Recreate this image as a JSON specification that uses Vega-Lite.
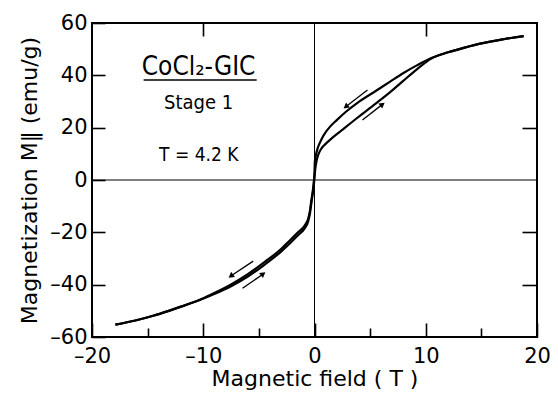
{
  "$schema": "https://vega.github.io/schema/vega-lite/v6.json",
  "width": 445,
  "height": 314,
  "autosize": "none",
  "padding": {"left": 92, "top": 23, "right": 21, "bottom": 56},
  "background": "white",
  "config": {
    "view": {"stroke": "black", "strokeWidth": 2},
    "axis": {
      "grid": false,
      "domain": false,
      "ticks": true,
      "tickColor": "black",
      "tickWidth": 1.6,
      "labelFlush": false,
      "labelFont": "DejaVu Sans",
      "labelFontSize": 21,
      "labelColor": "black",
      "titleFont": "DejaVu Sans",
      "titleFontSize": 22,
      "titleFontWeight": "normal",
      "titleColor": "black"
    }
  },
  "resolve": {"axis": {"x": "independent", "y": "independent"}},
  "layer": [
    {
      "data": {"values": [
        {"branch": "down", "x": 18.8, "y": 55.0},
        {"branch": "down", "x": 17.0, "y": 53.8},
        {"branch": "down", "x": 15.0, "y": 52.2},
        {"branch": "down", "x": 13.5, "y": 50.6},
        {"branch": "down", "x": 12.0, "y": 48.8},
        {"branch": "down", "x": 10.5, "y": 46.6},
        {"branch": "down", "x": 9.2, "y": 43.8},
        {"branch": "down", "x": 8.0, "y": 40.9},
        {"branch": "down", "x": 6.8, "y": 37.6},
        {"branch": "down", "x": 5.5, "y": 34.0},
        {"branch": "down", "x": 3.8, "y": 29.3},
        {"branch": "down", "x": 2.8, "y": 26.0},
        {"branch": "down", "x": 2.0, "y": 22.9},
        {"branch": "down", "x": 1.4, "y": 20.4},
        {"branch": "down", "x": 0.93, "y": 17.8},
        {"branch": "down", "x": 0.6, "y": 15.3},
        {"branch": "down", "x": 0.33, "y": 12.7},
        {"branch": "down", "x": 0.15, "y": 10.0},
        {"branch": "down", "x": 0.03, "y": 7.0},
        {"branch": "down", "x": 0.0, "y": 3.0},
        {"branch": "down", "x": -0.05, "y": 0.0},
        {"branch": "down", "x": -0.15, "y": -4.0},
        {"branch": "down", "x": -0.27, "y": -7.3},
        {"branch": "down", "x": -0.4, "y": -11.5},
        {"branch": "down", "x": -0.57, "y": -14.8},
        {"branch": "down", "x": -0.9, "y": -17.5},
        {"branch": "down", "x": -1.46, "y": -19.9},
        {"branch": "down", "x": -2.2, "y": -23.0},
        {"branch": "down", "x": -2.96, "y": -26.2},
        {"branch": "down", "x": -4.47, "y": -31.3},
        {"branch": "down", "x": -5.96, "y": -35.9},
        {"branch": "down", "x": -7.46, "y": -39.8},
        {"branch": "down", "x": -8.96, "y": -43.1},
        {"branch": "down", "x": -10.15, "y": -45.5},
        {"branch": "down", "x": -12.0, "y": -48.4},
        {"branch": "down", "x": -13.1, "y": -50.0},
        {"branch": "down", "x": -14.5, "y": -51.9},
        {"branch": "down", "x": -16.1, "y": -53.7},
        {"branch": "down", "x": -17.9, "y": -55.3},
        {"branch": "up", "x": -17.9, "y": -55.3},
        {"branch": "up", "x": -16.1, "y": -53.7},
        {"branch": "up", "x": -14.5, "y": -51.9},
        {"branch": "up", "x": -13.1, "y": -50.0},
        {"branch": "up", "x": -12.0, "y": -48.4},
        {"branch": "up", "x": -10.15, "y": -45.6},
        {"branch": "up", "x": -8.96, "y": -43.5},
        {"branch": "up", "x": -7.46, "y": -40.5},
        {"branch": "up", "x": -5.96, "y": -36.8},
        {"branch": "up", "x": -4.47, "y": -32.3},
        {"branch": "up", "x": -2.96, "y": -27.2},
        {"branch": "up", "x": -2.2, "y": -24.2},
        {"branch": "up", "x": -1.46, "y": -21.0},
        {"branch": "up", "x": -0.9, "y": -18.6},
        {"branch": "up", "x": -0.57, "y": -15.8},
        {"branch": "up", "x": -0.4, "y": -12.5},
        {"branch": "up", "x": -0.27, "y": -8.5},
        {"branch": "up", "x": -0.15, "y": -5.0},
        {"branch": "up", "x": -0.05, "y": -1.5},
        {"branch": "up", "x": 0.0, "y": 1.0},
        {"branch": "up", "x": 0.08, "y": 4.5},
        {"branch": "up", "x": 0.2, "y": 7.6},
        {"branch": "up", "x": 0.35, "y": 9.8},
        {"branch": "up", "x": 0.63, "y": 12.1},
        {"branch": "up", "x": 1.0, "y": 13.8},
        {"branch": "up", "x": 1.7, "y": 16.5},
        {"branch": "up", "x": 2.8, "y": 20.2},
        {"branch": "up", "x": 3.8, "y": 23.6},
        {"branch": "up", "x": 5.5, "y": 29.2},
        {"branch": "up", "x": 6.8, "y": 33.6},
        {"branch": "up", "x": 8.0, "y": 38.0},
        {"branch": "up", "x": 9.2, "y": 42.3},
        {"branch": "up", "x": 10.5, "y": 46.4},
        {"branch": "up", "x": 12.0, "y": 48.8},
        {"branch": "up", "x": 13.5, "y": 50.6},
        {"branch": "up", "x": 15.0, "y": 52.2},
        {"branch": "up", "x": 17.0, "y": 53.8},
        {"branch": "up", "x": 18.8, "y": 55.0}
      ]},
      "mark": {"type": "line", "color": "black", "strokeWidth": 2.2, "interpolate": "monotone"},
      "encoding": {
        "x": {
          "field": "x", "type": "quantitative",
          "scale": {"domain": [-20, 20], "nice": false},
          "axis": {
            "orient": "bottom", "offset": -14, "tickSize": 14,
            "values": [-20, -15, -10, -5, 0, 5, 10, 15, 20],
            "tickDash": {"condition": {"test": "datum.value % 10 !== 0", "value": [0, 5, 9, 100]}, "value": [14, 0]},
            "labelPadding": 8,
            "labelExpr": "datum.value % 10 === 0 ? replace(datum.label, '−', '–') : ''",
            "title": "Magnetic field ( T )", "titlePadding": 2
          }
        },
        "y": {
          "field": "y", "type": "quantitative",
          "scale": {"domain": [-60, 60], "nice": false},
          "axis": {
            "orient": "left", "offset": -13, "tickSize": 13,
            "values": [-60, -40, -20, 0, 20, 40, 60],
            "labelPadding": 5,
            "labelExpr": "replace(datum.label, '−', '–')",
            "title": "Magnetization M‖ (emu/g)", "titlePadding": 8
          }
        },
        "detail": {"field": "branch"}
      }
    },
    {
      "data": {"values": [{"lx": -10.42, "ly": 43.2, "label": "CoCl₂-GIC"}]},
      "mark": {"type": "text", "font": "DejaVu Sans Condensed, DejaVu Sans", "fontSize": 26, "color": "black", "align": "center", "baseline": "middle"},
      "encoding": {
        "x": {
          "field": "lx", "type": "quantitative",
          "axis": {"orient": "top", "offset": -13, "tickSize": 13, "values": [-10, 10], "labels": false, "title": null}
        },
        "y": {
          "field": "ly", "type": "quantitative",
          "axis": {"orient": "right", "offset": -15, "tickSize": 15, "values": [-40, -20, 20, 40], "labels": false, "title": null}
        },
        "text": {"field": "label"}
      }
    },
    {
      "data": {"values": [{"v": 0}]},
      "mark": {"type": "rule", "color": "black", "strokeWidth": 1},
      "encoding": {"y": {"field": "v", "type": "quantitative", "axis": null}}
    },
    {
      "data": {"values": [{"v": 0}]},
      "mark": {"type": "rule", "color": "black", "strokeWidth": 1},
      "encoding": {"x": {"field": "v", "type": "quantitative", "axis": null}}
    },
    {
      "data": {"values": [{"ux": -15.36, "ux2": -5.2, "uy": 38.2}]},
      "mark": {"type": "rule", "color": "black", "strokeWidth": 1.5},
      "encoding": {
        "x": {"field": "ux", "type": "quantitative", "axis": null},
        "x2": {"field": "ux2"},
        "y": {"field": "uy", "type": "quantitative", "axis": null}
      }
    },
    {
      "data": {"values": [
        {"dir": "dl", "ax": 4.76, "ay": 34.4, "hx": 2.81, "hy": 28.0},
        {"dir": "ur", "ax": 4.31, "ay": 22.9, "hx": 6.11, "hy": 28.9},
        {"dir": "dl", "ax": -5.51, "ay": -31.0, "hx": -7.52, "hy": -36.7},
        {"dir": "ur", "ax": -6.47, "ay": -41.4, "hx": -4.61, "hy": -35.9}
      ]},
      "layer": [
        {
          "mark": {"type": "rule", "color": "black", "strokeWidth": 1.3},
          "encoding": {
            "x": {"field": "ax", "type": "quantitative", "axis": null},
            "y": {"field": "ay", "type": "quantitative", "axis": null},
            "x2": {"field": "hx"},
            "y2": {"field": "hy"}
          }
        },
        {
          "transform": [{"filter": "datum.dir == 'dl'"}],
          "mark": {"type": "point", "shape": "triangle-up", "filled": true, "color": "black", "opacity": 1, "size": 40, "angle": 233},
          "encoding": {
            "x": {"field": "hx", "type": "quantitative", "axis": null},
            "y": {"field": "hy", "type": "quantitative", "axis": null}
          }
        },
        {
          "transform": [{"filter": "datum.dir == 'ur'"}],
          "mark": {"type": "point", "shape": "triangle-up", "filled": true, "color": "black", "opacity": 1, "size": 40, "angle": 53},
          "encoding": {
            "x": {"field": "hx", "type": "quantitative", "axis": null},
            "y": {"field": "hy", "type": "quantitative", "axis": null}
          }
        }
      ]
    },
    {
      "data": {"values": [{"lx": -10.42, "ly": 29.4, "label": "Stage 1"}]},
      "mark": {"type": "text", "font": "DejaVu Sans Condensed, DejaVu Sans", "fontSize": 20, "color": "black", "align": "center", "baseline": "middle"},
      "encoding": {
        "x": {"field": "lx", "type": "quantitative", "axis": null},
        "y": {"field": "ly", "type": "quantitative", "axis": null},
        "text": {"field": "label"}
      }
    },
    {
      "data": {"values": [{"lx": -10.4, "ly": 9.6, "label": "T = 4.2 K"}]},
      "mark": {"type": "text", "font": "DejaVu Sans Condensed, DejaVu Sans", "fontSize": 19, "color": "black", "align": "center", "baseline": "middle"},
      "encoding": {
        "x": {"field": "lx", "type": "quantitative", "axis": null},
        "y": {"field": "ly", "type": "quantitative", "axis": null},
        "text": {"field": "label"}
      }
    }
  ]
}
